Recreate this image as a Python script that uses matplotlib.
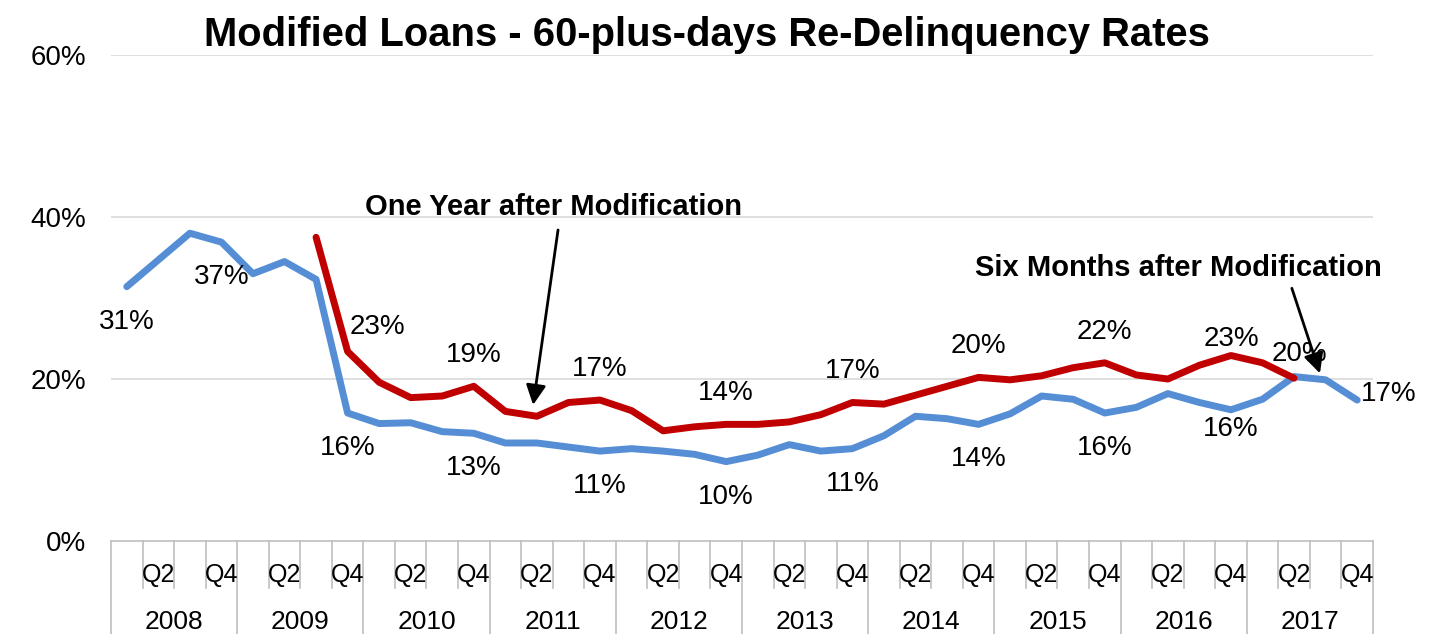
import numpy as np
import matplotlib
matplotlib.use('Agg')
import matplotlib.pyplot as plt

plt.rcParams['font.family'] = ['Liberation Sans', 'DejaVu Sans']

# quarterly data, 2008 Q1 .. 2017 Q4
years = ['2008', '2009', '2010', '2011', '2012', '2013', '2014', '2015', '2016', '2017']
quarterLabels = ['', 'Q2', '', 'Q4']

sixMonths = [31.4, 34.7, 38.0, 36.9,
             33.0, 34.5, 32.3, 15.8,
             14.5, 14.6, 13.5, 13.3,
             12.1, 12.1, 11.6, 11.1,
             11.4, 11.1, 10.7, 9.8,
             10.6, 11.9, 11.1, 11.4,
             13.0, 15.4, 15.1, 14.4,
             15.7, 17.9, 17.5, 15.8,
             16.5, 18.2, 17.1, 16.2,
             17.5, 20.3, 19.9, 17.4]

oneYear = [np.nan, np.nan, np.nan, np.nan,
           np.nan, np.nan, 37.5, 23.4,
           19.6, 17.7, 17.9, 19.1,
           16.0, 15.4, 17.1, 17.4,
           16.1, 13.6, 14.1, 14.4,
           14.4, 14.7, 15.6, 17.1,
           16.9, 18.0, 19.1, 20.2,
           19.9, 20.4, 21.4, 22.0,
           20.5, 20.0, 21.7, 22.9,
           22.0, 20.1, np.nan, np.nan]

# which points get a value label
sixMonthsLabelIdx = [0, 3, 7, 11, 15, 19, 23, 27, 31, 35, 39]
oneYearLabelIdx = [7, 11, 15, 19, 23, 27, 31, 35, 37]

blue = '#558ED5'
red = '#C00000'
gridGray = '#D9D9D9'
axisGray = '#BFBFBF'

fig = plt.figure(figsize=(14.51, 6.34), dpi=100)
ax = fig.add_axes([0.0765, 0.1467, 0.8697, 0.7665])

x = np.arange(len(sixMonths))
ax.plot(x, sixMonths, color=blue, lw=5, solid_capstyle='round', solid_joinstyle='round', zorder=3)
ax.plot(x, oneYear, color=red, lw=5, solid_capstyle='round', solid_joinstyle='round', zorder=4)

ax.set_xlim(-0.5, len(x) - 0.5)
ax.set_ylim(0, 60)
ax.set_yticks([0, 20, 40, 60])
ax.set_yticklabels(['0%', '20%', '40%', '60%'])
ax.tick_params(axis='y', length=0, pad=18, labelsize=20)
ax.set_xticks([])
for y in [20, 40, 60]:
  ax.axhline(y, color=gridGray, lw=1.2, zorder=1)
for side in ['top', 'right', 'left']:
  ax.spines[side].set_visible(False)
ax.spines['bottom'].set_color(axisGray)
ax.spines['bottom'].set_linewidth(1.2)

# two level category axis
tr = ax.get_xaxis_transform()
axH = 0.7665 * 634
qTick = 47 / axH
yearTick = 93 / axH
ax.plot([-0.5, -0.5], [0, -yearTick], transform=tr, color=axisGray, lw=1.2, clip_on=False)
for i in range(1, len(x) + 1):
  b = i - 0.5
  depth = yearTick if i % 4 == 0 else qTick
  ax.plot([b, b], [0, -depth], transform=tr, color=axisGray, lw=1.2, clip_on=False)
for i in range(len(x)):
  lab = quarterLabels[i % 4]
  if lab:
    ax.text(i, -34 / axH, lab, transform=tr, ha='center', va='center', fontsize=18)
for k, yr in enumerate(years):
  ax.text(4 * k + 1.5, -81 / axH, yr, transform=tr, ha='center', va='center', fontsize=19)

# value labels
blueOffsets = {35: (0, -19), 39: (32, 6)}
redOffsets = {7: (30, 24), 35: (0, 17), 37: (5, 24)}
for i in sixMonthsLabelIdx:
  dx, dy = blueOffsets.get(i, (0, -35))
  ax.annotate(f'{sixMonths[i]:.0f}%', (i, sixMonths[i]), xytext=(dx, dy),
              textcoords='offset pixels', ha='center', va='center', fontsize=20, zorder=5)
for i in oneYearLabelIdx:
  dx, dy = redOffsets.get(i, (0, 31))
  ax.annotate(f'{oneYear[i]:.0f}%', (i, oneYear[i]), xytext=(dx, dy),
              textcoords='offset pixels', ha='center', va='center', fontsize=20, zorder=5)

# arrow callouts
ax.text(13.54, 41.2, 'One Year after Modification', ha='center', va='center',
        fontsize=21, fontweight='bold', zorder=6)
ax.annotate('', xy=(12.88, 16.8), xytext=(13.67, 38.4),
            arrowprops=dict(arrowstyle='-|>', color='black', lw=2, mutation_scale=30, shrinkA=0, shrinkB=0), zorder=6)
ax.text(33.32, 33.7, 'Six Months after Modification', ha='center', va='center',
        fontsize=21, fontweight='bold', zorder=6)
ax.annotate('', xy=(37.82, 20.7), xytext=(36.93, 31.2),
            arrowprops=dict(arrowstyle='-|>', color='black', lw=2, mutation_scale=30, shrinkA=0, shrinkB=0), zorder=6)

fig.text(0.487, 1 - 35 / 634, 'Modified Loans - 60-plus-days Re-Delinquency Rates',
         ha='center', va='center', fontsize=28.8, fontweight='bold')

fig.savefig('out.png', dpi=100)
